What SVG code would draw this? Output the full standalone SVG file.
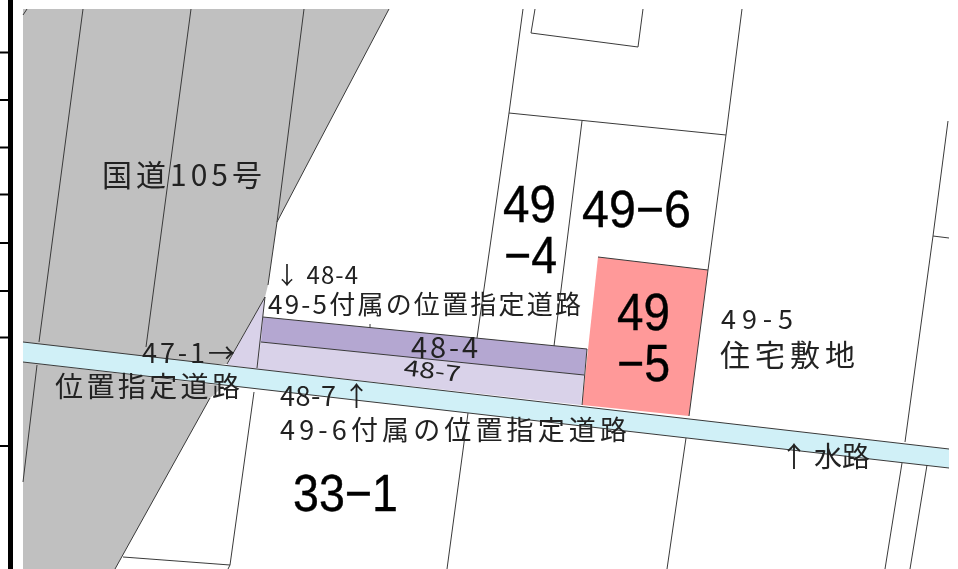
<svg xmlns="http://www.w3.org/2000/svg" width="958" height="569" viewBox="0 0 958 569">
<style>
.l{fill:none;stroke:#3a3a3a;stroke-width:1}
.t{font-family:"Noto Sans CJK JP","Noto Sans",sans-serif;fill:#222;font-size:26px}
.s{font-size:22px}
.b{font-family:"Liberation Sans",Arial,sans-serif;fill:#000;font-size:52px;stroke:#000;stroke-width:.4}
</style>
<defs><filter id="soft" x="0" y="0" width="100%" height="100%"><feGaussianBlur stdDeviation="0.4"/></filter></defs>
<rect width="958" height="569" fill="#fff"/>
<g filter="url(#soft)">
<polygon points="23,9 389,9 320,140 277,222 268,285 265,297 227,364 23,364" fill="#c0c0c0"/>
<polygon points="23,362 224,386 210,398 115,569 23,569" fill="#c0c0c0"/>
<polygon points="265,297 263,317 261,342 257,369 227,365" fill="#d9d2e9"/>
<polygon points="261,342 584,375 581,405 257,369" fill="#d9d2e9"/>
<polygon points="263,317 587,349 584,375 261,342" fill="#b4a7d1"/>
<polygon points="598,257 708,270 689,416 582,405" fill="#ff9999"/>
<polygon points="23,342 949,449 949,468 23,362" fill="#d0f0f7"/>
<path fill="none" stroke="#000" stroke-width="5" d="M10.500,0V569"/>
<path fill="none" stroke="#000" stroke-width="2" d="M0,52.500H9M0,100H9M0,147.500H9M0,194.500H9M0,243H9M0,291H9M0,337.500H9M0,446H9"/>
<g class="l">
<path d="M27,9L23,15"/>
<path d="M83,9L39,342"/>
<path d="M37,365L23,482"/>
<path d="M191,9L146,347"/>
<path d="M304,9L277,222L268,285"/>
<path d="M389,9L320,140L277,222"/>
<path d="M265,297L227,364"/>
<path d="M210,398L115,569"/>
<path d="M265,297L257,368"/>
<path d="M23,342L949,449"/>
<path d="M23,362L949,468"/>
<path d="M263,317L587,349"/>
<path d="M261,342L584,375"/>
<path d="M587,349L582,405"/>
<path d="M254,392L230,565L123,557"/>
<path d="M230,565L228,569"/>
<path d="M523,9L509,113L477,338"/>
<path d="M535,9L531,33L638,47L643,9"/>
<path d="M509,113L726,135"/>
<path d="M582,121L554,346"/>
<path d="M742,9L726,135L708,270L689,416"/>
<path d="M598,257L708,270"/>
<path d="M686,438L667,569"/>
<path d="M468,413L447,569"/>
<path d="M948,121L933,236L905,442"/>
<path d="M933,236L949,238"/>
<path d="M902,463L885,569"/>
<path d="M927,465L910,569"/>
<path d="M370,324V328"/>
</g>
<text class="t" x="102" y="186" textLength="160" style="font-size:30px">国道105号</text>
<text class="b" x="503" y="222" textLength="53" lengthAdjust="spacingAndGlyphs">49</text>
<text class="b" x="504" y="273" textLength="53" lengthAdjust="spacingAndGlyphs">−4</text>
<text class="b" x="582" y="227" textLength="109" lengthAdjust="spacingAndGlyphs">49−6</text>
<text class="b" x="617" y="330" textLength="53" lengthAdjust="spacingAndGlyphs">49</text>
<text class="b" x="617" y="381" textLength="53" lengthAdjust="spacingAndGlyphs">−5</text>
<text class="b" x="293" y="511" textLength="105" lengthAdjust="spacingAndGlyphs">33−1</text>
<text class="t" x="275" y="284" textLength="83" style="font-size:24px">↓ 48-4</text>
<text class="t" x="268" y="314" textLength="313">49-5付属の位置指定道路</text>
<text class="t" x="411" y="358" textLength="67" style="font-size:29px">48-4</text>
<text class="t s" transform="translate(403,375) rotate(7)" textLength="57" lengthAdjust="spacingAndGlyphs">48-7</text>
<text class="t" x="142" y="363" textLength="93" style="font-size:27px">47-1→</text>
<text class="t" x="55" y="397" textLength="185" style="font-size:28px">位置指定道路</text>
<text class="t" x="280" y="406" textLength="90" style="font-size:27px">48-7 ↑</text>
<text class="t" x="280" y="440" textLength="347" style="font-size:27px">49-6付属の位置指定道路</text>
<text class="t" x="721" y="329" textLength="72" style="font-size:27px">49-5</text>
<text class="t" x="720" y="366" textLength="135" style="font-size:30px">住宅敷地</text>
<text class="t" x="780" y="467" textLength="90" style="font-size:28px">↑ 水路</text>
</g>
</svg>
